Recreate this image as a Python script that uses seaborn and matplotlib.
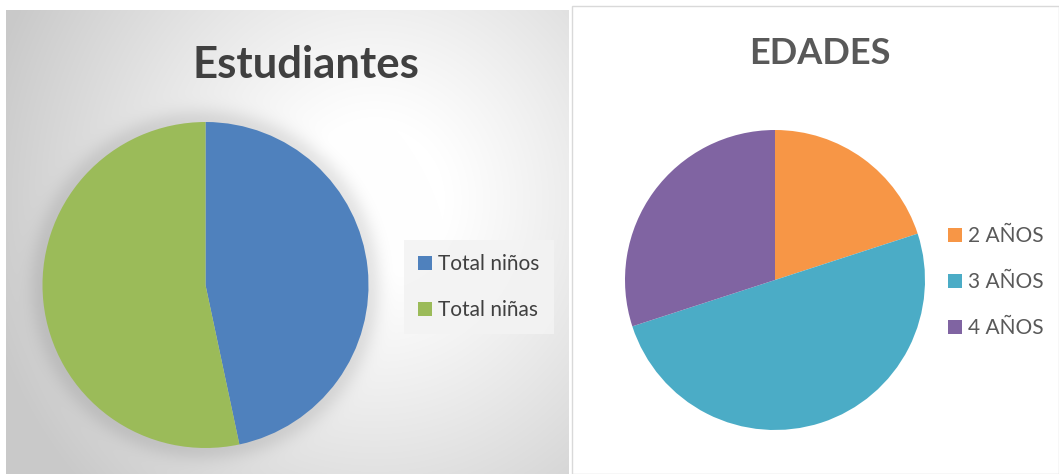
import numpy as np
import matplotlib.pyplot as plt
import seaborn as sns
from matplotlib.patches import Rectangle

# Chart data
student_labels = ['Total niños', 'Total niñas']
student_values = [14, 16]
student_colors = ['#4F81BD', '#9BBB59']

age_labels = ['2 AÑOS', '3 AÑOS', '4 AÑOS']
age_values = [6, 15, 9]
age_colors = ['#F79646', '#4BACC6', '#8064A2']

W, H = 1059, 474  # figure size in pixels


def fig_box(x0, y0, x1, y1):
    # pixel box (top-left origin) -> figure fraction [left, bottom, width, height]
    return [x0 / W, 1 - y1 / H, (x1 - x0) / W, (y1 - y0) / H]


def gradient_background(fig):
    # Excel style radial gray gradient with a soft shadow around the pie
    x0, y0, x1, y1 = 6, 10, 569, 474
    ax_bg = fig.add_axes(fig_box(x0, y0, x1, y1))
    xs = np.arange(x0, x1) + 0.5
    ys = np.arange(y0, y1) + 0.5
    gx, gy = np.meshgrid(xs, ys)
    r = np.hypot((gx - 375) / 1.0, (gy - 200) / 1.05)
    t = np.clip((r - 70) / (400 - 70), 0, 1)
    val = 1 - 0.21 * t ** 1.1
    d = np.hypot(gx - 205.5, gy - 285) - 163
    shadow = 0.10 * np.exp(-(np.clip(d, 0, None) / 14) ** 2)
    val = val * (1 - shadow)
    img = np.dstack([val, val, val])
    ax_bg.imshow(img, aspect='auto', interpolation='bilinear')
    ax_bg.axis('off')


def draw_pie(fig, box, values, colors):
    ax = fig.add_axes(box)
    wedges, _ = ax.pie(values, colors=colors, startangle=90, counterclock=False,
                       radius=1, wedgeprops=dict(linewidth=0))
    ax.set_xlim(-1, 1)
    ax.set_ylim(-1, 1)
    ax.axis('off')
    return wedges


sns.set_style('white')
plt.rcParams['font.family'] = ['Lato', 'DejaVu Sans']

fig = plt.figure(figsize=(W / 100, H / 100), dpi=100)
fig.patch.set_facecolor('white')

# left panel
gradient_background(fig)
student_pal = sns.color_palette(student_colors)
wedges_left = draw_pie(fig, fig_box(42.5, 122, 368.5, 448), student_values, student_pal)
fig.text(306 / W, 1 - 65 / H, 'Estudiantes', ha='center', va='center',
         fontsize=31.5, fontweight='bold', color='#404040')
leg1 = fig.legend(wedges_left, student_labels, loc='upper left',
                  bbox_to_anchor=(404 / W, 1 - 240 / H), bbox_transform=fig.transFigure,
                  frameon=True, fancybox=False, facecolor='#f3f3f3', edgecolor='none',
                  framealpha=0.9, fontsize=15, handlelength=0.65, handleheight=0.65,
                  handletextpad=0.3, labelspacing=1.24, borderpad=0.68, borderaxespad=0)
for t in leg1.get_texts():
    t.set_color('#404040')

# right panel
fig.add_artist(Rectangle((572 / W, 0), 487 / W, 468 / H, transform=fig.transFigure,
                         facecolor='white', edgecolor='#d9d9d9', linewidth=1, zorder=0))
age_pal = sns.color_palette(age_colors)
wedges_right = draw_pie(fig, fig_box(625, 130, 925, 430), age_values, age_pal)
fig.text(820 / W, 1 - 53 / H, 'EDADES', ha='center', va='center',
         fontsize=26, fontweight='bold', color='#595959')
leg2 = fig.legend(wedges_right, age_labels, loc='upper left',
                  bbox_to_anchor=(940 / W, 1 - 218 / H), bbox_transform=fig.transFigure,
                  frameon=False, fontsize=15, handlelength=0.65, handleheight=0.65,
                  handletextpad=0.3, labelspacing=1.24, borderpad=0.4, borderaxespad=0)
for t in leg2.get_texts():
    t.set_color('#595959')

fig.savefig('out.png', dpi=100)
plt.close()
